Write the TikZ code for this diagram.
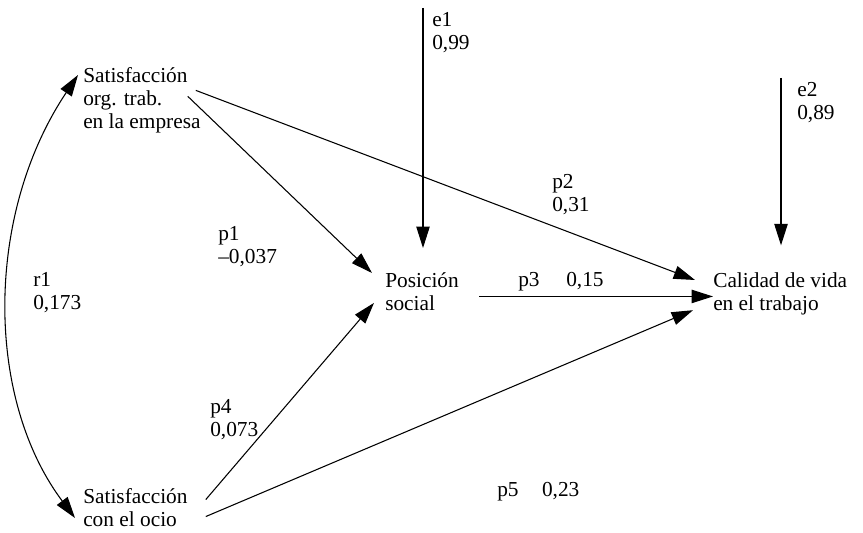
\documentclass[tikz,border=0pt]{standalone}
\usepackage{fontspec}
\setmainfont{Liberation Serif}
\usetikzlibrary{arrows.meta}

\begin{document}
\begin{tikzpicture}[
  x=0.75pt,y=0.75pt,
  var/.style={anchor=north west,inner sep=0pt,align=left,
    font=\fontsize{16}{17.5}\selectfont},
  lab/.style={var},
  a/.style={-{Triangle[length=16pt,width=10pt]},line width=0.8pt},
  aa/.style={{Triangle[length=16pt,width=10pt]}-{Triangle[length=16pt,width=10pt]},line width=0.8pt}
]
  \useasboundingbox (0,0) rectangle (863,532);
  % variables
  \node[var] (sat1) at (83,465) {Satisfacción\\org. trab.\\en la empresa};
  \node[var] (sat2) at (83,44) {Satisfacción\\con el ocio};
  \node[var] (pos) at (385,260) {Posición\\social};
  \node[var] (cal) at (713,260) {Calidad de vida\\en el trabajo};
  % coefficients
  \node[lab] (e1) at (432,520) {e1\\0,99};
  \node[lab] (e2) at (797,450) {e2\\0,89};
  \node[lab] (r1) at (33,260) {r1\\0,173};
  \node[lab] (p1) at (218,306) {p1\\–0,037};
  \node[lab] (p2) at (552,358) {p2\\0,31};
  \node[lab] (p3) at (518,260) {p3\hspace{1.25em}0,15};
  \node[lab] (p4) at (210,133) {p4\\0,073};
  \node[lab] (p5) at (497,50) {p5\hspace{1.1em}0,23};
  \coordinate (e1top) at (423,524);
  \coordinate (e2top) at (781,454);
  % paths
  \draw[a,shorten >=18pt] (e1top) -- (e1top |- pos.north);
  \draw[a,shorten >=20pt] (e2top) -- (e2top |- cal.north);
  \draw[a] ([shift={(-13,4)}]sat1.east) -- ([shift={(-13,-1)}]pos.north west);
  \draw[a] ([shift={(-5,10)}]sat1.east) -- ([shift={(-18,-8)}]cal.north west);
  \draw[a,shorten >=15pt] ([shift={(20,-5)}]pos.east) -- ([shift={(20,-5)}]pos.east -| cal.west);
  \draw[a] ([shift={(18,8)}]sat2.east) -- ([shift={(-11,8)}]pos.south west);
  \draw[a] ([shift={(18,-9)}]sat2.east) -- ([shift={(-20,5)}]cal.south west);
  \draw[aa] ([shift={(-8,-30)}]sat2.north west) .. controls (-15,134) and (-15,318) .. ([shift={(-5,-8)}]sat1.north west);
\end{tikzpicture}
\end{document}
